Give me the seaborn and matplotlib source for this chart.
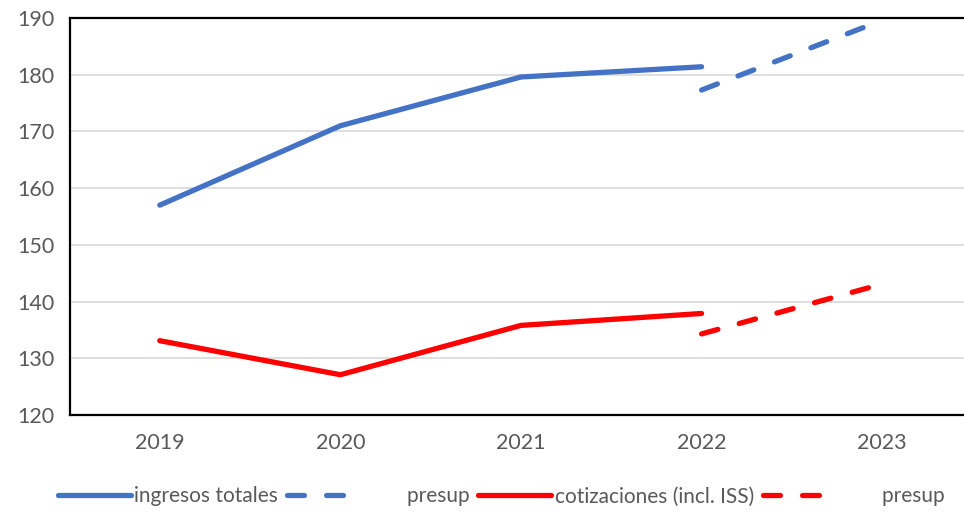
import pandas as pd
import matplotlib.pyplot as plt
import seaborn as sns

# datos
years = ["2019", "2020", "2021", "2022", "2023"]
ingresos = [157.0, 171.0, 179.6, 181.4]
ingresos_presup = [177.3, 189.6]
cotizaciones = [133.1, 127.1, 135.8, 137.9]
cotizaciones_presup = [134.3, 143.1]

sns.set_theme(style="white")
plt.rcParams['font.family'] = ['Lato', 'DejaVu Sans']

azul = "#4472C4"
rojo = "#FF0000"
gris = "#595959"

fig = plt.figure(figsize=(9.64, 5.13), dpi=100)
ax = fig.add_axes([69.5 / 964, 1 - 415 / 513, 903 / 964, 397 / 513])

df_ing = pd.DataFrame({"year": years[:4], "valor": ingresos})
df_ing_p = pd.DataFrame({"year": years[3:], "valor": ingresos_presup})
df_cot = pd.DataFrame({"year": years[:4], "valor": cotizaciones})
df_cot_p = pd.DataFrame({"year": years[3:], "valor": cotizaciones_presup})

# fijar el orden de las categorías
ax.plot(years, [float("nan")] * len(years))

lw = 3.8
sns.lineplot(data=df_ing, x="year", y="valor", ax=ax, color=azul, lw=lw,
             solid_capstyle="round", label="ingresos totales")
sns.lineplot(data=df_ing_p, x="year", y="valor", ax=ax, color=azul, lw=lw,
             dashes=False, label="        presup")
sns.lineplot(data=df_cot, x="year", y="valor", ax=ax, color=rojo, lw=lw,
             solid_capstyle="round", label="cotizaciones (incl. ISS)")
sns.lineplot(data=df_cot_p, x="year", y="valor", ax=ax, color=rojo, lw=lw,
             dashes=False, label="        presup")

for ln in ax.lines[2::2]:
    ln.set_dashes((3.2, 4.2))
    ln.set_dash_capstyle("round")

ax.set_xlim(-0.5, 4.5)
ax.set_ylim(120, 190)
ax.set_yticks(range(120, 191, 10))
ax.grid(axis="y", color="#D9D9D9", lw=1.2)
ax.set_axisbelow(True)
ax.set_xlabel("")
ax.set_ylabel("")
ax.tick_params(axis="both", colors=gris, labelsize=15.5, length=0)
ax.tick_params(axis="x", pad=13)
ax.tick_params(axis="y", pad=11)
for s in ["left", "top", "bottom", "right"]:
    ax.spines[s].set_color("black")
    ax.spines[s].set_linewidth(1.6)

handles, labels = ax.get_legend_handles_labels()
handles, labels = handles[-4:], labels[-4:]
leg = ax.legend(handles, labels, loc="center", bbox_to_anchor=(432 / 903, -0.205),
                ncol=4, frameon=False, fontsize=15, handlelength=3.5,
                handletextpad=0.15, columnspacing=0.45, labelcolor=gris)
for h in leg.legend_handles:
    h.set_linewidth(lw)

fig.savefig("out.png", dpi=100)
